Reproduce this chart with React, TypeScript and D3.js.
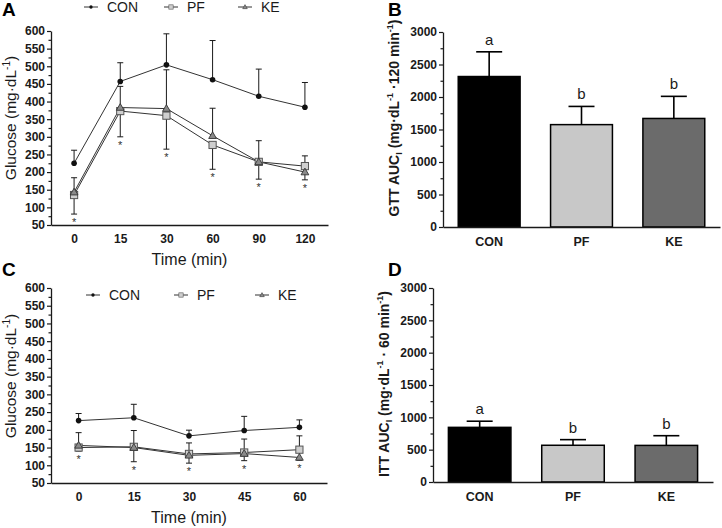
import React, { useRef, useEffect } from 'react';
import * as d3 from 'd3';

// panel A: glucose tolerance test
const gttTimes = ['0', '15', '30', '60', '90', '120'];
const gttCon = [225, 457, 504, 462, 415, 384];
const gttConUp = [37, 53, 88, 111, 77, 70];
const gttPf = [135, 373, 360, 277, 229, 217];
const gttPfUp = [0, 0, 0, 0, 0, 29];
const gttPfDown = [54, 73, 95, 69, 49, 0];
const gttKe = [143, 383, 380, 303, 229, 200];
const gttKeUp = [41, 60, 110, 78, 60, 0];
const gttKeDown = [0, 0, 0, 0, 0, 22];

// panel C: insulin tolerance test
const ittTimes = ['0', '15', '30', '45', '60'];
const ittCon = [226, 234, 183, 198, 207];
const ittConUp = [20, 38, 16, 40, 21];
const ittPf = [150, 152, 132, 136, 144];
const ittPfUp = [42, 46, 31, 38, 39];
const ittKe = [156, 150, 128, 133, 122];
const ittKeDown = [16, 40, 22, 20, 8];

// panels B and D: area under curve
const groups = ['CON', 'PF', 'KE'];
const gttAuc = [2315, 1575, 1670];
const gttAucSd = [380, 280, 340];
const ittAuc = [845, 568, 566];
const ittAucSd = [95, 87, 150];
const sigLetters = ['a', 'b', 'b'];

const FONT = '"Liberation Sans", Arial, sans-serif';
const INK = '#1a1a1a';
const barFill = { CON: '#000000', PF: '#c8c8c8', KE: '#6b6b6b' };
const zeros = (n) => new Array(n).fill(0);

function styleAxis(sel, size) {
  sel.attr('font-family', FONT).attr('font-size', size);
  sel.selectAll('path').attr('stroke', INK).attr('stroke-width', 1.3);
  sel.selectAll('line').attr('stroke', INK).attr('stroke-width', 1.2);
  sel
    .selectAll('text')
    .attr('font-family', FONT)
    .attr('font-weight', 'bold')
    .attr('font-size', size)
    .attr('fill', INK);
}

function drawMarker(g, kind, cx, cy) {
  if (kind === 'CON') {
    g.append('circle').attr('cx', cx).attr('cy', cy).attr('r', 2.8).attr('fill', '#111');
  } else if (kind === 'PF') {
    g.append('rect')
      .attr('x', cx - 3.6)
      .attr('y', cy - 3.6)
      .attr('width', 7.2)
      .attr('height', 7.2)
      .attr('fill', '#cfcfcf')
      .attr('stroke', '#555')
      .attr('stroke-width', 1);
  } else {
    const tri = d3.symbol().type(d3.symbolTriangle).size(26);
    g.append('path')
      .attr('d', tri())
      .attr('transform', `translate(${cx},${cy + 0.5})`)
      .attr('fill', '#8a8a8a')
      .attr('stroke', '#333')
      .attr('stroke-width', 0.9);
  }
}

function drawLinePanel(root, p) {
  const g = root.append('g');
  const x = d3.scalePoint().domain(p.times).range([p.left, p.right]).padding(0.5);
  const y = d3.scaleLinear().domain([50, 600]).range([p.bottom, p.top]);

  // minor ticks
  g.append('g')
    .attr('transform', `translate(${p.left},0)`)
    .call(d3.axisLeft(y).tickValues(d3.range(75, 600, 50)).tickSize(2.5).tickFormat(() => ''))
    .call((s) => s.select('.domain').remove())
    .call((s) => styleAxis(s, 12));

  g.append('g')
    .attr('transform', `translate(${p.left},0)`)
    .call(d3.axisLeft(y).tickValues(d3.range(50, 601, 50)).tickSize(4).tickSizeOuter(0).tickPadding(2))
    .call((s) => styleAxis(s, 12));

  g.append('g')
    .attr('transform', `translate(0,${p.bottom})`)
    .call(d3.axisBottom(x).tickSize(0).tickSizeOuter(0).tickPadding(9))
    .call((s) => styleAxis(s, 12));

  g.append('text')
    .attr('x', (p.left + p.right) / 2)
    .attr('y', p.bottom + 40)
    .attr('text-anchor', 'middle')
    .attr('font-family', FONT)
    .attr('font-size', 16)
    .attr('fill', INK)
    .text('Time (min)');

  const yl = g
    .append('text')
    .attr('transform', `translate(${p.left - 35},${p.labelY}) rotate(-90)`)
    .attr('text-anchor', 'middle')
    .attr('font-family', FONT)
    .attr('font-size', 15.5)
    .attr('fill', INK);
  yl.append('tspan').text('Glucose (mg·dL');
  yl.append('tspan').attr('font-size', 10).attr('dy', -6).text('-1');
  yl.append('tspan').attr('dy', 6).text(')');

  const series = [
    { key: 'CON', vals: p.con, up: p.conUp, down: zeros(p.times.length) },
    { key: 'PF', vals: p.pf, up: p.pfUp, down: p.pfDown },
    { key: 'KE', vals: p.ke, up: p.keUp, down: p.keDown }
  ];

  // error bars
  series.forEach((s) => {
    s.vals.forEach((v, i) => {
      const cx = x(p.times[i]);
      [s.up[i], -s.down[i]].forEach((e) => {
        if (!e) return;
        g.append('line')
          .attr('x1', cx)
          .attr('x2', cx)
          .attr('y1', y(v))
          .attr('y2', y(v + e))
          .attr('stroke', INK)
          .attr('stroke-width', 1);
        g.append('line')
          .attr('x1', cx - 3)
          .attr('x2', cx + 3)
          .attr('y1', y(v + e))
          .attr('y2', y(v + e))
          .attr('stroke', INK)
          .attr('stroke-width', 1);
      });
    });
  });

  const line = d3
    .line()
    .x((d) => x(d[0]))
    .y((d) => y(d[1]));
  series.forEach((s) => {
    g.append('path')
      .attr('d', line(s.vals.map((v, i) => [p.times[i], v])))
      .attr('fill', 'none')
      .attr('stroke', '#333')
      .attr('stroke-width', 1);
  });
  series.forEach((s) => {
    s.vals.forEach((v, i) => drawMarker(g, s.key, x(p.times[i]), y(v)));
  });

  // significance stars under the treated groups
  p.times.forEach((t, i) => {
    const low = Math.min(p.pf[i] - p.pfDown[i], p.ke[i] - p.keDown[i]);
    g.append('text')
      .attr('x', x(t))
      .attr('y', y(low) + 12)
      .attr('text-anchor', 'middle')
      .attr('font-family', FONT)
      .attr('font-size', 11)
      .attr('fill', '#333')
      .text('*');
  });

  // legend
  p.legend.forEach((lx, i) => {
    const key = groups[i];
    g.append('line')
      .attr('x1', lx - 7)
      .attr('x2', lx + 7)
      .attr('y1', p.legendY)
      .attr('y2', p.legendY)
      .attr('stroke', '#333')
      .attr('stroke-width', 1);
    const lg = g.append('g').attr('transform', `translate(${lx},${p.legendY}) scale(0.6)`);
    drawMarker(lg, key, 0, 0);
    g.append('text')
      .attr('x', lx + 16)
      .attr('y', p.legendY + 5)
      .attr('font-family', FONT)
      .attr('font-size', 14)
      .attr('fill', INK)
      .text(key);
  });
}

function drawBarPanel(root, p) {
  const g = root.append('g');
  const x = d3.scaleBand().domain(groups).range([p.left, p.right]).paddingInner(0.33).paddingOuter(0.165);
  const y = d3.scaleLinear().domain([0, 3000]).range([p.bottom, p.top]);

  g.append('g')
    .attr('transform', `translate(${p.left},0)`)
    .call(d3.axisLeft(y).tickValues(d3.range(250, 3000, 500)).tickSize(2.5).tickFormat(() => ''))
    .call((s) => s.select('.domain').remove())
    .call((s) => styleAxis(s, 12));
  g.append('g')
    .attr('transform', `translate(${p.left},0)`)
    .call(
      d3
        .axisLeft(y)
        .tickValues(d3.range(0, 3001, 500))
        .tickFormat(d3.format('d'))
        .tickSize(4)
        .tickSizeOuter(0)
        .tickPadding(2)
    )
    .call((s) => styleAxis(s, 12));

  // error bars (upper only)
  groups.forEach((k, i) => {
    const cx = x(k) + x.bandwidth() / 2;
    const top = p.vals[i] + p.sd[i];
    g.append('line')
      .attr('x1', cx)
      .attr('x2', cx)
      .attr('y1', y(p.vals[i]))
      .attr('y2', y(top))
      .attr('stroke', '#000')
      .attr('stroke-width', 1.6);
    g.append('line')
      .attr('x1', cx - 13)
      .attr('x2', cx + 13)
      .attr('y1', y(top))
      .attr('y2', y(top))
      .attr('stroke', '#000')
      .attr('stroke-width', 1.6);
    g.append('text')
      .attr('x', cx)
      .attr('y', y(top) - 7)
      .attr('text-anchor', 'middle')
      .attr('font-family', FONT)
      .attr('font-size', 15)
      .attr('fill', INK)
      .text(sigLetters[i]);
  });

  g.selectAll('rect.bar')
    .data(groups)
    .enter()
    .append('rect')
    .attr('x', (k) => x(k))
    .attr('y', (k, i) => y(p.vals[i]))
    .attr('width', x.bandwidth())
    .attr('height', (k, i) => p.bottom - y(p.vals[i]))
    .attr('fill', (k) => barFill[k])
    .attr('stroke', '#000')
    .attr('stroke-width', 1.5);

  g.append('g')
    .attr('transform', `translate(0,${p.bottom})`)
    .call(d3.axisBottom(x).tickSize(0).tickSizeOuter(0).tickPadding(10))
    .call((s) => styleAxis(s, 12.5));

  const yl = g
    .append('text')
    .attr('transform', `translate(${p.left - 44},${p.labelY}) rotate(-90)`)
    .attr('text-anchor', 'middle')
    .attr('font-family', FONT)
    .attr('font-weight', 'bold')
    .attr('font-size', 14)
    .attr('fill', INK);
  yl.append('tspan').text(`${p.test} AUC`);
  yl.append('tspan').attr('font-size', 9).attr('dy', 3).text('I');
  yl.append('tspan').attr('dy', -3).text(' (mg·dL');
  yl.append('tspan').attr('font-size', 9).attr('dy', -6).text('-1');
  yl.append('tspan').attr('dy', 6).text(p.mid);
  yl.append('tspan').attr('font-size', 9).attr('dy', -6).text('-1');
  yl.append('tspan').attr('dy', 6).text(')');
}

export default function App() {
  const svgRef = useRef(null);

  useEffect(() => {
    const svg = d3.select(svgRef.current);
    svg.selectAll('*').remove();

    drawLinePanel(svg, {
      times: gttTimes,
      con: gttCon,
      conUp: gttConUp,
      pf: gttPf,
      pfUp: gttPfUp,
      pfDown: gttPfDown,
      ke: gttKe,
      keUp: gttKeUp,
      keDown: gttKeDown,
      left: 51,
      right: 328,
      top: 31,
      bottom: 225,
      labelY: 118,
      legend: [91, 171, 245],
      legendY: 7
    });

    drawLinePanel(svg, {
      times: ittTimes,
      con: ittCon,
      conUp: ittConUp,
      pf: ittPf,
      pfUp: ittPfUp,
      pfDown: zeros(ittTimes.length),
      ke: ittKe,
      keUp: zeros(ittTimes.length),
      keDown: ittKeDown,
      left: 51,
      right: 327,
      top: 288,
      bottom: 483,
      labelY: 376,
      legend: [93, 181, 262],
      legendY: 295
    });

    drawBarPanel(svg, {
      test: 'GTT',
      mid: ' ·120 min',
      vals: gttAuc,
      sd: gttAucSd,
      left: 443,
      right: 720,
      top: 32,
      bottom: 227,
      labelY: 118
    });

    drawBarPanel(svg, {
      test: 'ITT',
      mid: ' · 60 min',
      vals: ittAuc,
      sd: ittAucSd,
      left: 433,
      right: 713,
      top: 288,
      bottom: 482,
      labelY: 384
    });

    const labels = [
      ['A', 2, 16],
      ['B', 388, 16],
      ['C', 2, 276],
      ['D', 388, 276]
    ];
    labels.forEach(([t, lx, ly]) => {
      svg
        .append('text')
        .attr('x', lx)
        .attr('y', ly)
        .attr('font-family', FONT)
        .attr('font-weight', 'bold')
        .attr('font-size', 19)
        .attr('fill', '#000')
        .text(t);
    });
  }, []);

  return (
    <svg
      ref={svgRef}
      width={722}
      height={528}
      style={{ position: 'absolute', left: 0, top: 0, background: '#fff' }}
    />
  );
}
